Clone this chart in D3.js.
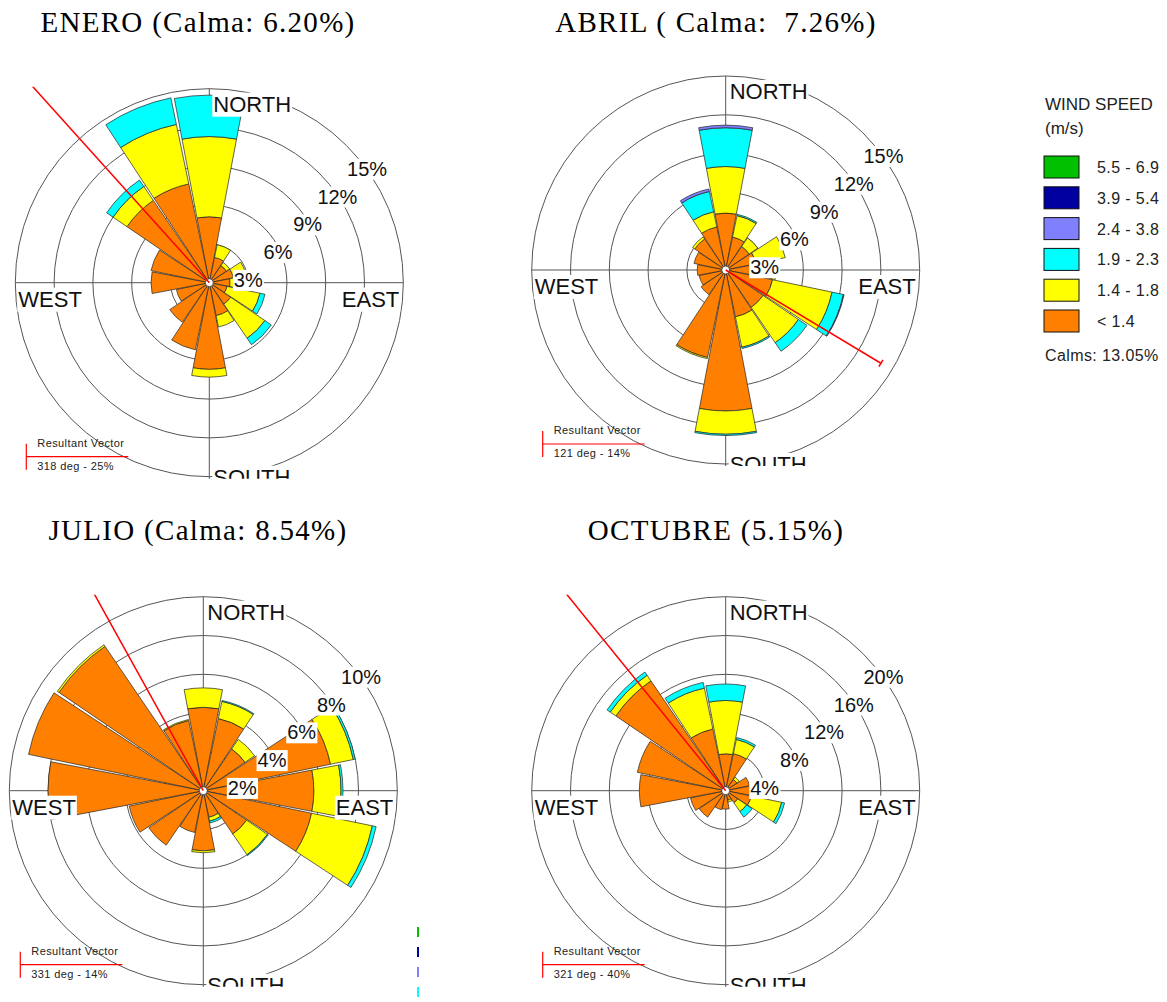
<!DOCTYPE html>
<html><head><meta charset="utf-8">
<script src="https://cdn.jsdelivr.net/npm/d3@7"></script>
<style>body{margin:0;background:#fff} svg{display:block}</style>
</head><body>
<svg id="chart" width="1167" height="1002"></svg>
<script>
// ---------- DATA ----------
const directions = ["N","NNE","NE","ENE","E","ESE","SE","SSE","S","SSW","SW","WSW","W","WNW","NW","NNW"];
const speedClasses = ["5.5 - 6.9","3.9 - 5.4","2.4 - 3.8","1.9 - 2.3","1.4 - 1.8","< 1.4"];
const titles = ["ENERO (Calma: 6.20%)","ABRIL ( Calma:  7.26%)","JULIO (Calma: 8.54%)","OCTUBRE (5.15%)"];
const ringTicks = [[3,6,9,12,15],[3,6,9,12,15],[2,4,6,8,10],[4,8,12,16,20]];
const vectorDeg = [318,121,331,321];
const vectorPct = [25,14,14,40];
const calmsLabel = "Calms: 13.05%";

// percentages per direction (N ... NNW) for each speed class
const eneroLt14  = [5.1,2.0,1.6,1.9,1.6,1.4,2.0,2.6,6.7,5.3,3.7,2.6,4.5,4.6,7.7,7.8];
const enero14_18 = [6.2,1.0,0.3,1.0,0.5,2.6,3.2,0.9,0.6,0,0,0,0,0,1.3,4.7];
const enero19_23 = [3.2,0,0,0,0,0.4,0.6,0,0,0,0,0,0,0,0.6,2.1];
const enero24_38 = [0,0,0,0,0,0,0,0,0,0,0,0,0,0,0,0];

const abrilLt14  = [4.4,2.6,2.2,2.4,3.6,3.7,3.5,3.7,10.9,6.9,2.3,2.1,2.2,2.5,2.9,3.4];
const abril14_18 = [3.6,1.7,0.8,2.3,0.3,4.7,3.3,2.4,1.8,0.1,0,0,0,0,0.2,1.2];
const abril19_23 = [3.0,0.1,0,0,0,0.9,0.8,0.1,0.1,0,0,0,0,0,0,1.6];
const abril24_38 = [0.2,0,0,0,0,0.05,0,0,0,0,0,0,0,0,0,0.2];

const julioLt14  = [4.3,3.8,2.6,6.7,5.7,5.7,2.7,1.4,3.1,2.2,3.4,3.9,8.0,9.2,9.0,3.7];
const julio14_18 = [1.0,0.9,0.6,1.2,1.4,3.2,1.3,0.2,0.1,0,0,0,0,0,0.1,0.05];
const julio19_23 = [0,0.05,0,0.1,0.1,0.2,0.05,0.1,0,0,0,0,0,0,0,0];
const julio24_38 = [0,0,0,0,0,0,0,0,0,0,0,0,0,0,0,0];

const octubreLt14  = [3.8,3.9,1.4,2.5,2.5,2.7,1.5,1.0,1.9,2.0,3.3,3.7,8.9,9.3,13.7,6.5];
const octubre14_18 = [5.5,1.5,0.3,0,0,3.2,1.1,0.2,0,0,0,0,0,0,0.7,4.3];
const octubre19_23 = [1.7,0.2,0,0,0,0.3,0.7,0,0,0,0,0,0,0,0.4,0.6];
const octubre24_38 = [0,0,0,0,0,0,0,0,0,0,0,0,0,0,0,0];

const monthSeries = [
  [eneroLt14, enero14_18, enero19_23, enero24_38],
  [abrilLt14, abril14_18, abril19_23, abril24_38],
  [julioLt14, julio14_18, julio19_23, julio24_38],
  [octubreLt14, octubre14_18, octubre19_23, octubre24_38]
];

// ---------- STYLE / LAYOUT ----------
const classColors = ["#ff8000","#ffff00","#00ffff","#8080ff","#0000a0","#00c000"]; // <1.4 ... 5.5-6.9
const legendColors = ["#00c000","#0000a0","#8080ff","#00ffff","#ffff00","#ff8000"];
const centers = [[209.3,282.7],[725.7,270],[203.3,790.7],[725.7,790.7]];
const titlePos = [[198,32],[716,32],[198,540],[716,540]];
const R = 194;
const sans = "'Liberation Sans', Arial, sans-serif";

const svg = d3.select("#chart");
const defs = svg.append("defs");

function labelWithBg(g, x, y, txt, size, anchor, baseline) {
  const lg = g.append("g");
  const t = lg.append("text").attr("x", x).attr("y", y)
    .attr("font-family", sans).attr("font-size", size).attr("fill", "#111")
    .attr("text-anchor", anchor).text(txt);
  if (baseline) t.attr("dy", "0.36em");
  const b = t.node().getBBox();
  lg.insert("rect", "text").attr("x", b.x - 1).attr("y", b.y + 1)
    .attr("width", b.width + 2).attr("height", b.height - 1).attr("fill", "#fff");
}

titles.forEach((title, i) => {
  svg.append("text").attr("x", titlePos[i][0]).attr("y", titlePos[i][1])
    .attr("text-anchor", "middle").attr("font-family", "'Liberation Serif','Times New Roman',serif")
    .attr("font-size", 29).attr("letter-spacing", 1.3).style("white-space", "pre")
    .attr("fill", "#000").text(title);
});

monthSeries.forEach((series, i) => {
  const [cx, cy] = centers[i];
  const ticks = ringTicks[i];
  const r = d3.scaleLinear().domain([0, ticks[ticks.length - 1]]).range([0, R]);
  const clipId = "clip" + i;
  defs.append("clipPath").attr("id", clipId).append("rect")
    .attr("x", cx - R - 10).attr("y", cy - 196).attr("width", 2 * R + 20).attr("height", 392);
  const g = svg.append("g").attr("clip-path", `url(#${clipId})`)
    .append("g").attr("transform", `translate(${cx},${cy})`);

  // grid
  g.selectAll("circle.ring").data(ticks).join("circle").attr("class", "ring")
    .attr("r", d => r(d)).attr("fill", "none").attr("stroke", "#555").attr("stroke-width", 1);
  g.append("line").attr("x1", -R).attr("x2", R).attr("y1", 0).attr("y2", 0).attr("stroke", "#555");
  g.append("line").attr("x1", 0).attr("x2", 0).attr("y1", -R).attr("y2", R + 10).attr("stroke", "#555");

  // bars
  const keys = series.map((_, k) => k);
  const rows = directions.map((d, j) => {
    const o = { dir: d, idx: j };
    keys.forEach(k => o[k] = series[k][j]);
    return o;
  });
  const stacked = d3.stack().keys(keys)(rows);
  const step = 360 / directions.length;
  const pad = 0.5;
  const arc = d3.arc()
    .innerRadius(d => r(d[0])).outerRadius(d => r(d[1]))
    .startAngle(d => (d.data.idx * step - step / 2 + pad) * Math.PI / 180)
    .endAngle(d => (d.data.idx * step + step / 2 - pad) * Math.PI / 180);
  stacked.forEach((layer, k) => {
    g.append("g").selectAll("path").data(layer.filter(d => d[1] - d[0] > 0)).join("path")
      .attr("d", arc).attr("fill", classColors[k]).attr("stroke", "#222").attr("stroke-width", 0.7);
  });

  g.append("circle").attr("r", 4).attr("fill", "#fff").attr("stroke", "#333").attr("stroke-width", 0.8);

  // resultant vector
  const a = vectorDeg[i] * Math.PI / 180;
  const L = r(vectorPct[i]);
  const ex = L * Math.sin(a), ey = -L * Math.cos(a);
  g.append("line").attr("x1", 0).attr("y1", 0).attr("x2", ex).attr("y2", ey)
    .attr("stroke", "#ff0000").attr("stroke-width", 1.5);
  const px = Math.cos(a) * 4, py = Math.sin(a) * 4;
  g.append("line").attr("x1", ex - px).attr("y1", ey - py).attr("x2", ex + px).attr("y2", ey + py)
    .attr("stroke", "#ff0000").attr("stroke-width", 1.5);

  // ring labels
  ticks.forEach((t, k) => {
    labelWithBg(g, 39 + k * 29.7, -3 - k * 27.8, t + "%", 20, "middle", true);
  });

  // compass labels
  labelWithBg(g, 4, -171, "NORTH", 22, "start");
  labelWithBg(g, -191, 24, "WEST", 22, "start");
  labelWithBg(g, 190, 24, "EAST", 22, "end");
  labelWithBg(g, 4, 202, "SOUTH", 22, "start");

  // resultant vector legend
  g.append("line").attr("x1", -183).attr("x2", -183).attr("y1", 161).attr("y2", 187)
    .attr("stroke", "#ff0000").attr("stroke-width", 1.2);
  g.append("line").attr("x1", -183).attr("x2", -81).attr("y1", 174).attr("y2", 174)
    .attr("stroke", "#ff0000").attr("stroke-width", 1.2);
  g.append("text").attr("x", -172).attr("y", 164).attr("font-family", sans).attr("font-size", 11)
    .attr("letter-spacing", 0.4).attr("fill", "#222").text("Resultant Vector");
  g.append("text").attr("x", -172).attr("y", 187).attr("font-family", sans).attr("font-size", 11)
    .attr("letter-spacing", 0.4).attr("fill", "#222").text(`${vectorDeg[i]} deg - ${vectorPct[i]}%`);
});

// ---------- LEGEND ----------
const lg = svg.append("g");
lg.append("text").attr("x", 1045).attr("y", 110).attr("font-family", sans).attr("font-size", 17)
  .attr("fill", "#222").text("WIND SPEED");
lg.append("text").attr("x", 1045).attr("y", 134).attr("font-family", sans).attr("font-size", 17)
  .attr("fill", "#222").text("(m/s)");
const ly = d3.scalePoint().domain(speedClasses).range([156, 310]);
speedClasses.forEach((s, k) => {
  lg.append("rect").attr("x", 1044).attr("y", ly(s)).attr("width", 35).attr("height", 22)
    .attr("fill", legendColors[k]).attr("stroke", "#111").attr("stroke-width", 1);
  lg.append("text").attr("x", 1097).attr("y", ly(s) + 17).attr("font-family", sans).attr("font-size", 16)
    .attr("letter-spacing", 0.4).attr("fill", "#222").text(s);
});
lg.append("text").attr("x", 1045).attr("y", 361).attr("font-family", sans).attr("font-size", 16)
  .attr("letter-spacing", 0.4).attr("fill", "#222").text(calmsLabel);

// clipped legend remnant at the edge of the JULIO panel
const remnantY = d3.scalePoint().domain(speedClasses.slice(0, 4)).range([927, 987]);
speedClasses.slice(0, 4).forEach((s, k) => {
  svg.append("rect").attr("x", 417).attr("y", remnantY(s)).attr("width", 2).attr("height", 10)
    .attr("fill", legendColors[k]);
});
</script>
</body></html>
